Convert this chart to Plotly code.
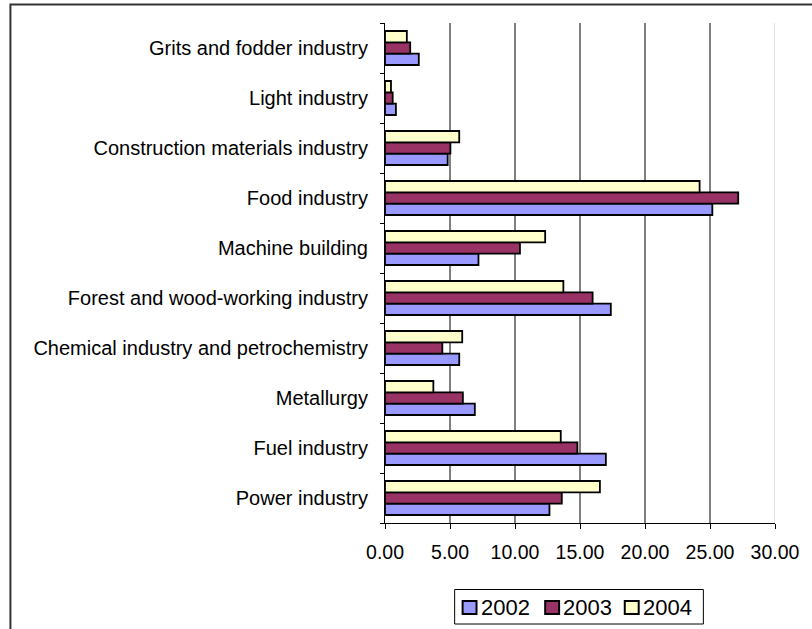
import plotly.graph_objects as go

# Industry categories, listed bottom to top
industries = [
    "Power industry",
    "Fuel industry",
    "Metallurgy",
    "Chemical industry and petrochemistry",
    "Forest and wood-working industry",
    "Machine building",
    "Food industry",
    "Construction materials industry",
    "Light industry",
    "Grits and fodder industry",
]

years = ["2002", "2003", "2004"]

values_2002 = [12.65, 16.99, 6.91, 5.71, 17.37, 7.19, 25.18, 4.82, 0.84, 2.60]
values_2003 = [13.60, 14.80, 5.99, 4.41, 15.97, 10.38, 27.17, 5.03, 0.59, 1.94]
values_2004 = [16.53, 13.52, 3.72, 5.94, 13.72, 12.32, 24.20, 5.71, 0.46, 1.68]

x_ticks = [0, 5, 10, 15, 20, 25, 30]

series = [values_2002, values_2003, values_2004]
colors = ["#9999FF", "#993366", "#FFFFCC"]

FONT = "Arial, Liberation Sans, sans-serif"

W, H = 812, 629
M_L, M_R, M_T, M_B = 385, 35, 23, 106
PLOT_W = W - M_L - M_R
PLOT_H = H - M_T - M_B


def px(x):
    """Pixel column -> paper x."""
    return (x - M_L) / PLOT_W


def py(y):
    """Pixel row -> paper y."""
    return (H - M_B - y) / PLOT_H


fig = go.Figure()
for year, vals, col in zip(years, series, colors):
    fig.add_trace(go.Bar(
        y=industries,
        x=vals,
        name=year,
        orientation="h",
        marker=dict(color=col, line=dict(color="black", width=1.8)),
        showlegend=False,
    ))

# Vertical gridlines; the last one is drawn lighter
shapes = []
for v in x_ticks[1:-1]:
    shapes.append(dict(type="line", xref="x", yref="paper", x0=v, x1=v, y0=0, y1=1,
                       line=dict(color="#000000", width=1), layer="below"))
shapes.append(dict(type="line", xref="x", yref="paper", x0=x_ticks[-1], x1=x_ticks[-1],
                   y0=0, y1=1, line=dict(color="#d9d9d9", width=1.5), layer="below"))
# Outer chart frame
shapes.append(dict(type="rect", xref="paper", yref="paper",
                   x0=px(8.5), x1=px(830), y0=py(660), y1=py(4.5),
                   line=dict(color="#333333", width=2), fillcolor="rgba(0,0,0,0)"))

# Legend box with a swatch and a label per year
annotations = []
shapes.append(dict(type="rect", xref="paper", yref="paper",
                   x0=px(455), x1=px(705), y0=py(624), y1=py(589.5),
                   line=dict(color="black", width=1), fillcolor="white"))
swatch_left = [463, 546, 626]
for year, col, x0 in zip(years, colors, swatch_left):
    shapes.append(dict(type="rect", xref="paper", yref="paper",
                       x0=px(x0), x1=px(x0 + 14), y0=py(614), y1=py(601),
                       line=dict(color="black", width=2), fillcolor=col))
    annotations.append(dict(xref="paper", yref="paper", x=px(x0 + 17), y=py(607),
                            xanchor="left", yanchor="middle", showarrow=False,
                            text=year, borderpad=0,
                            font=dict(family=FONT, size=22, color="black")))

fig.update_layout(
    width=W, height=H,
    margin=dict(l=M_L, r=M_R, t=M_T, b=M_B),
    paper_bgcolor="white", plot_bgcolor="white",
    font=dict(family=FONT, size=20, color="black"),
    barmode="group",
    bargap=0.32,
    bargroupgap=0,
    showlegend=False,
    shapes=shapes,
    annotations=annotations,
)

fig.update_xaxes(
    range=[0, 30],
    tickvals=x_ticks,
    tickformat=".2f",
    ticks="outside", ticklen=5, tickcolor="black", tickwidth=1,
    showline=True, linecolor="black", linewidth=1,
    showgrid=False, zeroline=False,
    ticklabelstandoff=7,
    tickfont=dict(family=FONT, size=19.5, color="black"),
    fixedrange=True,
)
fig.update_yaxes(
    type="category",
    categoryorder="array", categoryarray=industries,
    ticks="outside", ticklen=4, tickcolor="black", tickwidth=1,
    tickson="boundaries",
    showline=True, linecolor="black", linewidth=1,
    showgrid=False, zeroline=False,
    ticklabelstandoff=12,
    tickfont=dict(family=FONT, size=20, color="black"),
    fixedrange=True,
)

fig.write_html("out.html")
